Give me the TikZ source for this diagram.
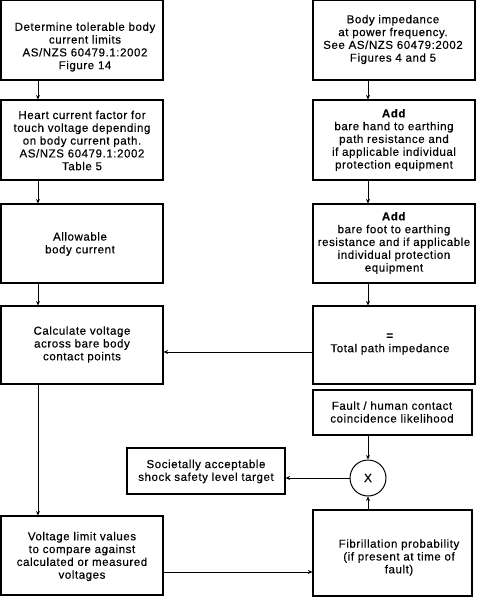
\documentclass[tikz,border=0pt]{standalone}
\usepackage{fontspec}
\setmainfont{Liberation Sans}[LetterSpace=5,FakeBold=0.35]
\usetikzlibrary{arrows.meta}
\begin{document}
\begin{tikzpicture}[x=1pt,y=-1pt,
  box/.style={draw, line width=1.1pt, inner sep=0pt},
  txt/.style={align=center, font=\fontsize{11.5}{12.8}\selectfont, inner sep=0pt},
  arr/.style={line width=1pt, -{Stealth[length=4.5pt,width=4pt]}}]
\useasboundingbox (0,0) rectangle (477,598);
% left column
\node[box, minimum width=162pt, minimum height=79.5pt] (L1) at (82,40.25) {};
\node[txt] (L1t) at (85,47) {Determine tolerable body\\current limits\\AS/NZS 60479.1:2002\\Figure 14};
\node[box, minimum width=162pt, minimum height=80pt] (L2) at (82,140) {};
\node[txt] (L2t) at (82,140.5) {Heart current factor for\\touch voltage depending\\on body current path.\\AS/NZS 60479.1:2002\\Table 5};
\node[box, minimum width=162pt, minimum height=79pt] (L3) at (82,243.5) {};
\node[txt] (L3t) at (80,244) {Allowable\\body current};
\node[box, minimum width=162pt, minimum height=78pt] (L4) at (82,345) {};
\node[txt] (L4t) at (82,344.5) {Calculate voltage\\across bare body\\contact points};
\node[box, minimum width=162pt, minimum height=79pt] (L5) at (82,555.5) {};
\node[txt] (L5t) at (82,556.5) {Voltage limit values\\to compare against\\calculated or measured\\voltages};
% right column
\node[box, minimum width=162pt, minimum height=79.5pt] (R1) at (394,40.25) {};
\node[txt] (R1t) at (393,39.5) {Body impedance\\at power frequency.\\See AS/NZS 60479:2002\\Figures 4 and 5};
\node[box, minimum width=162pt, minimum height=80pt] (R2) at (394,140) {};
\node[txt] (R2t) at (394,140) {\textbf{Add}\\bare hand to earthing\\path resistance and\\if applicable individual\\protection equipment};
\node[box, minimum width=162pt, minimum height=79pt] (R3) at (394,243.5) {};
\node[txt] (R3t) at (394,243) {\textbf{Add}\\bare foot to earthing\\resistance and if applicable\\individual protection\\equipment};
\node[box, minimum width=162pt, minimum height=78pt] (R4) at (394,345) {};
\node[txt] (R4t) at (390,344) {\textbf{=}\\Total path impedance};
\node[box, minimum width=159pt, minimum height=45pt] (F) at (392.5,412.5) {};
\node[txt] (Ft) at (392,412) {Fault / human contact\\coincidence likelihood};
\node[box, minimum width=158pt, minimum height=46pt] (S) at (206,471) {};
\node[txt] (St) at (206,471.5) {Societally acceptable\\shock safety level target};
\node[box, minimum width=159pt, minimum height=86pt] (P) at (392.5,553) {};
\node[txt] (Pt) at (399,557.5) {Fibrillation probability\\(if present at time of\\fault)};
\node[draw, circle, line width=1pt, minimum size=36pt, inner sep=0pt, font=\fontsize{12}{14}\selectfont] (X) at (368,478) {X};
% connectors
\coordinate (a) at ([yshift=-16.5pt]L5.east);
\draw[arr] ([xshift=-44pt]L1.south) -- ([xshift=-44pt]L2.north);
\draw[arr] ([xshift=-44pt]L2.south) -- ([xshift=-44pt]L3.north);
\draw[arr] ([xshift=-44pt]L3.south) -- ([xshift=-44pt]L4.north);
\draw[arr] ([xshift=-44pt]L4.south) -- ([xshift=-44pt]L5.north);
\draw[arr] ([xshift=-26pt]R1.south) -- ([xshift=-26pt]R2.north);
\draw[arr] ([xshift=-26pt]R2.south) -- ([xshift=-26pt]R3.north);
\draw[arr] ([xshift=-26pt]R3.south) -- ([xshift=-26pt]R4.north);
\draw[arr] ([yshift=-7pt]R4.west) -- ([yshift=-7pt]L4.east);
\draw[arr] (a) -- (a -| P.west);
\draw[arr] (F.south -| X.north) -- (X.north);
\draw[arr] (P.north -| X.south) -- (X.south);
\draw[arr] (X.west) -- (X.west -| S.east);
\end{tikzpicture}
\end{document}
